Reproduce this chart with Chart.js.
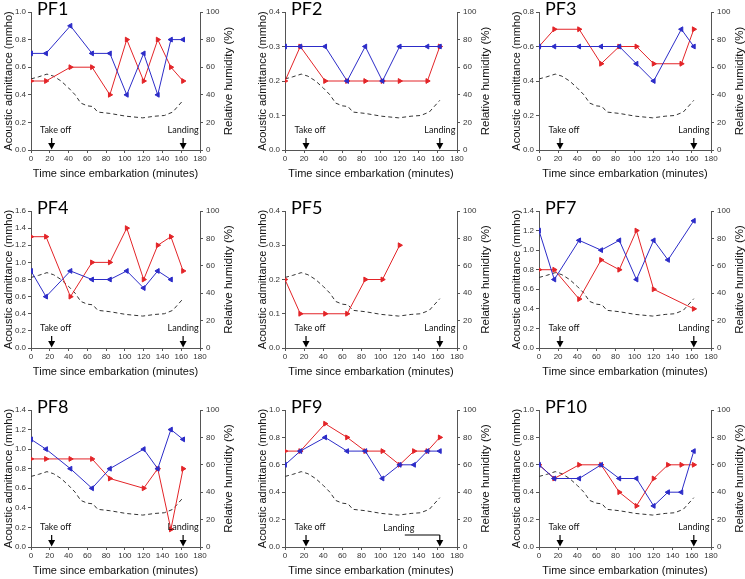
<!DOCTYPE html>
<html>
<head>
<meta charset="utf-8">
<script src="https://cdn.jsdelivr.net/npm/chart.js@4.4.0/dist/chart.umd.min.js"></script>
<style>
  html, body { margin: 0; padding: 0; background: #fff; overflow: hidden; width: 745px; height: 579px; }
  canvas { position: absolute; }
</style>
</head>
<body>
<script>
// sampling times (minutes since embarkation)
const times = [0, 16, 42, 65, 84, 102, 120, 135, 149, 162];

// relative humidity (dashed line, right axis) - same in every panel
const humidityTimes = [0, 8, 17, 24, 32, 40, 47, 53, 60, 66, 71, 84, 101, 119, 132, 142, 151, 162];
const humidityValues = [51.5, 53, 55, 53.5, 50, 45, 40, 34, 32, 31.5, 27.5, 26.5, 24.5, 23.3, 24.5, 25, 27.5, 36];

const takeOffTime = 22;
const landingTime = 162;

// acoustic admittance (mmho), blue = one ear, red = other ear
const pf1Blue = [0.7, 0.7, 0.9, 0.7, 0.7, 0.4, 0.7, 0.4, 0.8, 0.8];
const pf1Red  = [0.5, 0.5, 0.6, 0.6, 0.4, 0.8, 0.5, 0.8, 0.6, 0.5];
const pf2Blue = [0.3, 0.3, 0.3, 0.2, 0.3, 0.2, 0.3, null, 0.3, 0.3];
const pf2Red  = [0.2, 0.3, 0.2, 0.2, 0.2, 0.2, 0.2, null, 0.2, 0.3];
const pf3Blue = [0.6, 0.6, 0.6, 0.6, 0.6, 0.5, 0.4, null, 0.7, 0.6];
const pf3Red  = [0.6, 0.7, 0.7, 0.5, 0.6, 0.6, 0.5, null, 0.5, 0.7];
const pf4Blue = [0.9, 0.6, 0.9, 0.8, 0.8, 0.9, 0.7, 0.9, 0.8, null];
const pf4Red  = [1.3, 1.3, 0.6, 1.0, 1.0, 1.4, 0.8, 1.2, 1.3, 0.9];
const pf5Blue = [null, null, null, null, null, null, null, null, null, null];
const pf5Red  = [0.2, 0.1, 0.1, 0.1, 0.2, 0.2, 0.3, null, null, null];
const pf7Blue = [1.2, 0.7, 1.1, 1.0, 1.1, 0.7, 1.1, 0.9, null, 1.3];
const pf7Red  = [0.8, 0.8, 0.5, 0.9, 0.8, 1.2, 0.6, null, null, 0.4];
const pf8Blue = [1.1, 1.0, 0.8, 0.6, 0.8, null, 1.0, 0.8, 1.2, 1.1];
const pf8Red  = [0.9, 0.9, 0.9, 0.9, 0.7, null, 0.6, 0.8, 0.18, 0.8];
const pf9Blue = [0.6, 0.7, 0.8, 0.7, 0.7, 0.5, 0.6, 0.6, 0.7, 0.7];
const pf9Red  = [0.7, 0.7, 0.9, 0.8, 0.7, 0.7, 0.6, 0.7, 0.7, 0.8];
const pf10Blue = [0.6, 0.5, 0.5, 0.6, 0.5, 0.5, 0.3, 0.4, 0.4, 0.7];
const pf10Red  = [0.6, 0.5, 0.6, 0.6, 0.4, 0.3, 0.5, 0.6, 0.6, 0.6];

const panelNames = ['PF1', 'PF2', 'PF3', 'PF4', 'PF5', 'PF7', 'PF8', 'PF9', 'PF10'];
const blueSeries = [pf1Blue, pf2Blue, pf3Blue, pf4Blue, pf5Blue, pf7Blue, pf8Blue, pf9Blue, pf10Blue];
const redSeries = [pf1Red, pf2Red, pf3Red, pf4Red, pf5Red, pf7Red, pf8Red, pf9Red, pf10Red];
const yMaxes = [1.0, 0.4, 0.8, 1.6, 0.4, 1.4, 1.4, 1.0, 1.0];
const ySteps = [0.2, 0.1, 0.2, 0.2, 0.1, 0.2, 0.2, 0.2, 0.2];

// canvas placement in the page
const colLeft = [0, 253.5, 508];
const colPlotW = [169, 172, 172];
const rowTop = [0, 199, 398];
const rowPlotH = [138, 137, 137];

const BLUE = '#2c2cc8';
const RED = '#e32428';
const AXIS = '#555';

const annotate = {
  id: 'annotate',
  afterDraw(chart, args, opts) {
    const { ctx, chartArea: a, scales } = chart;
    const x = scales.x;
    ctx.save();
    // panel name
    ctx.fillStyle = '#000';
    ctx.font = '18px Lato';
    ctx.textAlign = 'left';
    ctx.textBaseline = 'alphabetic';
    ctx.fillText(opts.name, a.left + 6, a.top + 3);

    // right axis title, reading bottom to top
    ctx.save();
    ctx.translate(a.right + 29, (a.top + a.bottom) / 2);
    ctx.rotate(-Math.PI / 2);
    ctx.textAlign = 'center';
    ctx.textBaseline = 'middle';
    ctx.font = '11.5px "Liberation Sans"';
    ctx.fillStyle = '#111';
    ctx.fillText('Relative humidity (%)', 0, 0);
    ctx.restore();

    // take off / landing arrows
    const arrow = (px) => {
      ctx.strokeStyle = '#000';
      ctx.fillStyle = '#000';
      ctx.lineWidth = 1.2;
      ctx.beginPath();
      ctx.moveTo(px, a.bottom - 12);
      ctx.lineTo(px, a.bottom - 6);
      ctx.stroke();
      ctx.beginPath();
      ctx.moveTo(px - 3.5, a.bottom - 7);
      ctx.lineTo(px + 3.5, a.bottom - 7);
      ctx.lineTo(px, a.bottom - 0.5);
      ctx.closePath();
      ctx.fill();
    };
    const tx = x.getPixelForValue(takeOffTime);
    const lx = x.getPixelForValue(landingTime);
    arrow(tx);
    arrow(lx);
    ctx.font = '9px Lato';
    ctx.fillStyle = '#111';
    ctx.textAlign = 'center';
    ctx.textBaseline = 'middle';
    ctx.fillText('Take off', tx + 4, a.bottom - 20);
    if (opts.landingShifted) {
      ctx.fillText('Landing', lx - 41, a.bottom - 19);
      ctx.strokeStyle = '#000';
      ctx.lineWidth = 1;
      ctx.beginPath();
      ctx.moveTo(lx - 35, a.bottom - 12);
      ctx.lineTo(lx, a.bottom - 12);
      ctx.stroke();
    } else {
      ctx.fillText('Landing', lx, a.bottom - 20);
    }
    ctx.restore();
  }
};

function toPoints(xs, ys) {
  return xs.map((t, i) => ({ x: t, y: ys[i] }));
}

panelNames.forEach((name, i) => {
  const col = i % 3;
  const row = Math.floor(i / 3);
  const pw = colPlotW[col];
  const ph = rowPlotH[row];
  const canvas = document.createElement('canvas');
  canvas.width = 31 + pw + 48;
  canvas.height = 12 + ph + 35;
  canvas.style.left = colLeft[col] + 'px';
  canvas.style.top = rowTop[row] + 'px';
  document.body.appendChild(canvas);

  const tickFont = { family: '"Liberation Sans"', size: 8 };

  new Chart(canvas.getContext('2d'), {
    type: 'line',
    data: {
      datasets: [
        {
          data: toPoints(times, blueSeries[i]),
          borderColor: BLUE,
          backgroundColor: BLUE,
          borderWidth: 1,
          pointStyle: 'triangle',
          rotation: -90,
          pointRadius: 2.8,
          spanGaps: true,
          yAxisID: 'y',
          order: 1
        },
        {
          data: toPoints(times, redSeries[i]),
          borderColor: RED,
          backgroundColor: RED,
          borderWidth: 1,
          pointStyle: 'triangle',
          rotation: 90,
          pointRadius: 2.8,
          spanGaps: true,
          yAxisID: 'y',
          order: 2
        },
        {
          data: toPoints(humidityTimes, humidityValues),
          borderColor: '#333',
          borderWidth: 1,
          borderDash: [4, 3],
          pointRadius: 0,
          yAxisID: 'y2',
          order: 3
        }
      ]
    },
    options: {
      responsive: false,
      animation: false,
      layout: { padding: { top: 12, left: 0, right: 0, bottom: 0 }, autoPadding: false },
      plugins: {
        legend: { display: false },
        tooltip: { enabled: false },
        annotate: { name: name, landingShifted: name === 'PF9' }
      },
      scales: {
        x: {
          type: 'linear',
          min: 0,
          max: 180,
          ticks: { stepSize: 20, font: tickFont, color: '#333', padding: 1, maxRotation: 0 },
          grid: { drawOnChartArea: false, tickLength: 3, color: AXIS },
          border: { color: AXIS },
          title: { display: true, text: 'Time since embarkation (minutes)', font: { family: '"Liberation Sans"', size: 11 }, color: '#111', padding: { top: 2, bottom: 4 } },
          afterFit: (s) => { s.height = 35; }
        },
        y: {
          position: 'left',
          min: 0,
          max: yMaxes[i],
          ticks: { stepSize: ySteps[i], font: tickFont, color: '#333', padding: 2, callback: (v) => v.toFixed(1) },
          grid: { drawOnChartArea: false, tickLength: 3, color: AXIS },
          border: { color: AXIS },
          title: { display: true, text: 'Acoustic admittance (mmho)', font: { family: '"Liberation Sans"', size: 11 }, color: '#111', padding: 2 },
          afterFit: (s) => { s.width = 31; }
        },
        y2: {
          position: 'right',
          min: 0,
          max: 100,
          ticks: { stepSize: 20, font: tickFont, color: '#333', padding: 3 },
          grid: { drawOnChartArea: false, tickLength: 3, color: AXIS },
          border: { color: AXIS },
          afterFit: (s) => { s.width = 48; }
        }
      }
    },
    plugins: [annotate]
  });
});
</script>
</body>
</html>
